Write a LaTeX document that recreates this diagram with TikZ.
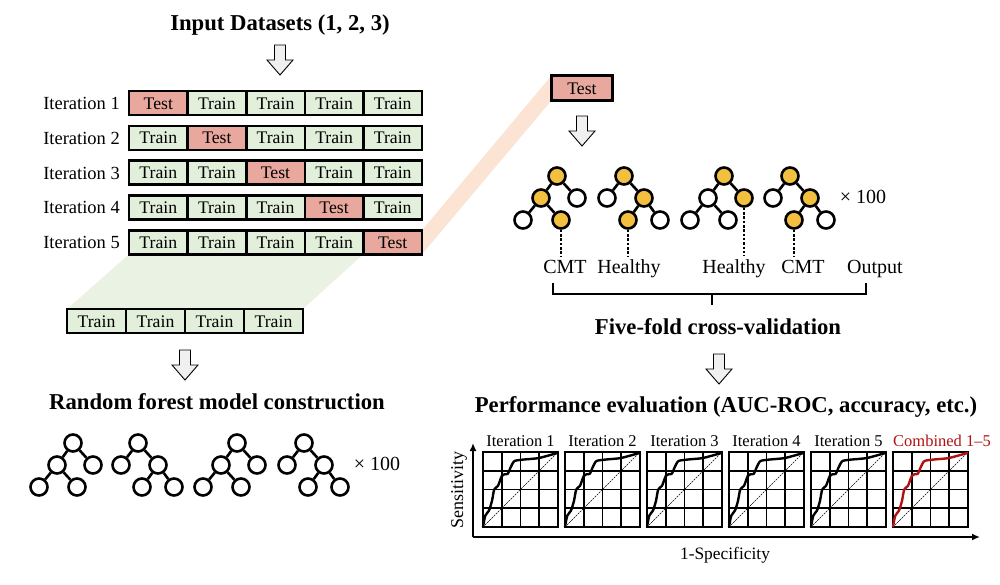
\documentclass[tikz,border=0pt]{standalone}
\usepackage{fontspec}
\setmainfont{Liberation Serif}
\usetikzlibrary{arrows.meta,backgrounds}

\definecolor{traincol}{RGB}{226,239,218}
\definecolor{testcol}{RGB}{232,168,158}
\definecolor{greenband}{RGB}{234,243,227}
\definecolor{peachband}{RGB}{251,228,212}
\definecolor{arrowfill}{RGB}{240,240,240}
\definecolor{nodeyel}{RGB}{242,192,62}
\definecolor{rocred}{RGB}{176,18,18}

\tikzset{
  cellbox/.style={draw, line width=2.6pt, minimum height=24pt, minimum width=58.6pt,
    inner sep=0pt, outer sep=0pt, font=\fontsize{17.7}{19}\selectfont, text height=12pt, text depth=0pt},
  traincell/.style={cellbox, fill=traincol},
  testcell/.style={cellbox, fill=testcol},
  rowlab/.style={anchor=east, inner sep=3pt, font=\fontsize{18.5}{20}\selectfont, text height=13pt, text depth=0pt},
  outlab/.style={inner sep=3pt, font=\fontsize{20}{22}\selectfont, text height=14pt, text depth=4pt},
  ttl/.style={inner sep=2pt, font=\bfseries\fontsize{22.7}{25}\selectfont, text height=16pt, text depth=5pt},
  smalllab/.style={inner sep=2pt, font=\fontsize{16.5}{18}\selectfont, text height=12pt, text depth=0pt},
  tnode/.style={circle, draw, line width=2.6pt, minimum size=17pt, inner sep=0pt},
  tedge/.style={line width=2.6pt},
  dashln/.style={line width=1.5pt, dash pattern=on 2.5pt off 1.8pt},
  brk/.style={line width=1.5pt},
  axisln/.style={line width=2pt, -{Latex[length=8pt,width=7pt]}},
  hollowarr/.style={draw, fill=arrowfill, line width=0.9pt, line join=miter},
  pics/hollow/.style={code={
    \draw[hollowarr] (-5.5,0) -- (5.5,0) -- (5.5,15) -- (13,15) -- (0,30) -- (-13,15) -- (-5.5,15) -- cycle;
  }},
  % tree with the left child split
  pics/treeA/.style n args={5}{code={
    \node[tnode, fill=#1] (-top) at (0,0) {};
    \node[tnode, fill=#2] (-l) at (-16,22) {};
    \node[tnode, fill=#3] (-r) at (20,22) {};
    \node[tnode, fill=#4] (-ll) at (-34,44) {};
    \node[tnode, fill=#5] (-lr) at (4,44) {};
    \draw[tedge] (-top) -- (-l);
    \draw[tedge] (-top) -- (-r);
    \draw[tedge] (-l) -- (-ll);
    \draw[tedge] (-l) -- (-lr);
  }},
  % tree with the right child split
  pics/treeB/.style n args={5}{code={
    \node[tnode, fill=#1] (-top) at (0,0) {};
    \node[tnode, fill=#2] (-l) at (-17,22) {};
    \node[tnode, fill=#3] (-r) at (20,22) {};
    \node[tnode, fill=#4] (-rl) at (4,44) {};
    \node[tnode, fill=#5] (-rr) at (36,44) {};
    \draw[tedge] (-top) -- (-l);
    \draw[tedge] (-top) -- (-r);
    \draw[tedge] (-r) -- (-rl);
    \draw[tedge] (-r) -- (-rr);
  }},
  pics/roc/.style={code={
    \foreach \g in {1,2,3}{
      \draw[line width=1.6pt] (\g*18.75,0) -- (\g*18.75,75);
      \draw[line width=1.6pt] (0,\g*18.75) -- (75,\g*18.75);
    }
    \draw[line width=2.4pt] (0,0) rectangle (75,75);
    \draw[line width=0.6pt, dash pattern=on 2pt off 1pt] (0,75) -- (75,0);
    \draw[line width=2.4pt, draw=#1, line join=round] plot[smooth, tension=0.4] coordinates {
      (0,75) (2.2,63.8) (6,58.5) (9,48.8) (11.2,37.5) (15,33.8) (18.75,24) (21.5,22.2)
      (24.8,21.8) (27.8,15) (31.5,9) (41,7.5) (56,6) (75,0.75)};
  }}
}

\begin{document}
\begin{tikzpicture}[x=1pt,y=-1pt]
\useasboundingbox (0,0) rectangle (1000,584);

% input and the five folds
\node[ttl] (ttlin) at (280,25) {Input Datasets (1, 2, 3)};
\pic (a1) at (280,45) {hollow};

\foreach \i [evaluate = \i as \yc using (68.2+34.8*\i)] in {1,2,3,4,5}{
  \node[rowlab] (lab\i) at (123,\yc) {Iteration \i};
  \foreach \j [evaluate = \j as \xc using (99.7+58.6*\j)] in {1,2,3,4,5}{
    \ifnum\i=\j\relax \def\kind{testcell}\def\word{Test}\else\def\kind{traincell}\def\word{Train}\fi
    \node[\kind] (c\i\j) at (\xc,\yc) {\word};
  }
}

% training part
\foreach \j [evaluate = \j as \xc using (37.5+59*\j)] in {1,2,3,4}{
  \node[traincell, minimum width=59pt] (tr\j) at (\xc,321) {Train};
}
\pic (a2) at (185,350) {hollow};
\node[ttl] (ttlrf) at (217,404) {Random forest model construction};
\pic (b1) at (73,443) {treeA={white}{white}{white}{white}{white}};
\pic (b2) at (138,443) {treeB={white}{white}{white}{white}{white}};
\pic (b3) at (237,443) {treeA={white}{white}{white}{white}{white}};
\pic (b4) at (304,443) {treeB={white}{white}{white}{white}{white}};
\node[outlab] (x100b) at (377,465) {× 100};

% test part
\node[testcell, minimum width=61pt, minimum height=25pt] (tst) at (582,88) {Test};
\pic (a3) at (582,116) {hollow};
\pic (t1) at (557,176) {treeA={nodeyel}{nodeyel}{white}{white}{nodeyel}};
\pic (t2) at (624,176) {treeB={nodeyel}{white}{nodeyel}{nodeyel}{white}};
\pic (t3) at (724,176) {treeA={nodeyel}{white}{nodeyel}{white}{white}};
\pic (t4) at (790,176) {treeB={nodeyel}{white}{nodeyel}{nodeyel}{white}};
\node[outlab] (x100t) at (863,198) {× 100};

\node[outlab] (o1) at (565,268) {CMT};
\node[outlab] (o2) at (629,268) {Healthy};
\node[outlab] (o3) at (734,268) {Healthy};
\node[outlab] (o4) at (803,268) {CMT};
\node[outlab] (o5) at (875,268) {Output};
\draw[dashln] (t1-lr) -- (t1-lr |- o1.north);
\draw[dashln] (t2-rl) -- (t2-rl |- o2.north);
\draw[dashln] (t3-r) -- (t3-r |- o3.north);
\draw[dashln] (t4-rl) -- (t4-rl |- o4.north);

\coordinate (brl) at (553,283);
\coordinate (brr) at (866,283);
\coordinate (brm) at (712,294);
\draw[brk] (brl) -- ++(0,11) -| (brr);
\draw[brk] (brm) -- ++(0,11);
\node[ttl] (ttlcv) at (718,329) {Five-fold cross-validation};
\pic (a4) at (719,354) {hollow};

% evaluation
\node[ttl] (ttlpe) at (726,407) {Performance evaluation (AUC-ROC, accuracy, etc.)};
\foreach \k [evaluate = \k as \px using (483+82*(\k-1))] in {1,2,3,4,5}{
  \pic (p\k) at (\px,452) {roc=black};
  \node[smalllab] (pl\k) at (\px+37.5,440) {Iteration \k};
}
\pic (p6) at (893,452) {roc=rocred};
\node[smalllab, text=rocred] (pl6) at (942,440) {Combined 1–5};

\coordinate (org) at (473,537);
\coordinate (ytop) at (473,443);
\coordinate (xend) at (980,537);
\draw[axisln] (org) -- (ytop);
\draw[axisln] (org) -- (xend);
\node[smalllab, font=\fontsize{18}{20}\selectfont, rotate=90] (ylab) at (457,490) {Sensitivity};
\node[smalllab, font=\fontsize{17.4}{19}\selectfont] (xlab) at (725,553) {1-Specificity};

% bands behind the cells
\begin{pgfonlayer}{background}
\fill[greenband] (c51.south west) -- (c54.south east) -- (tr4.north east) -- (tr1.north west) -- cycle;
\fill[peachband] (c55.north east) -- (c55.south east) -- (tst.south west) -- (tst.north west) -- cycle;
\end{pgfonlayer}
\end{tikzpicture}
\end{document}
